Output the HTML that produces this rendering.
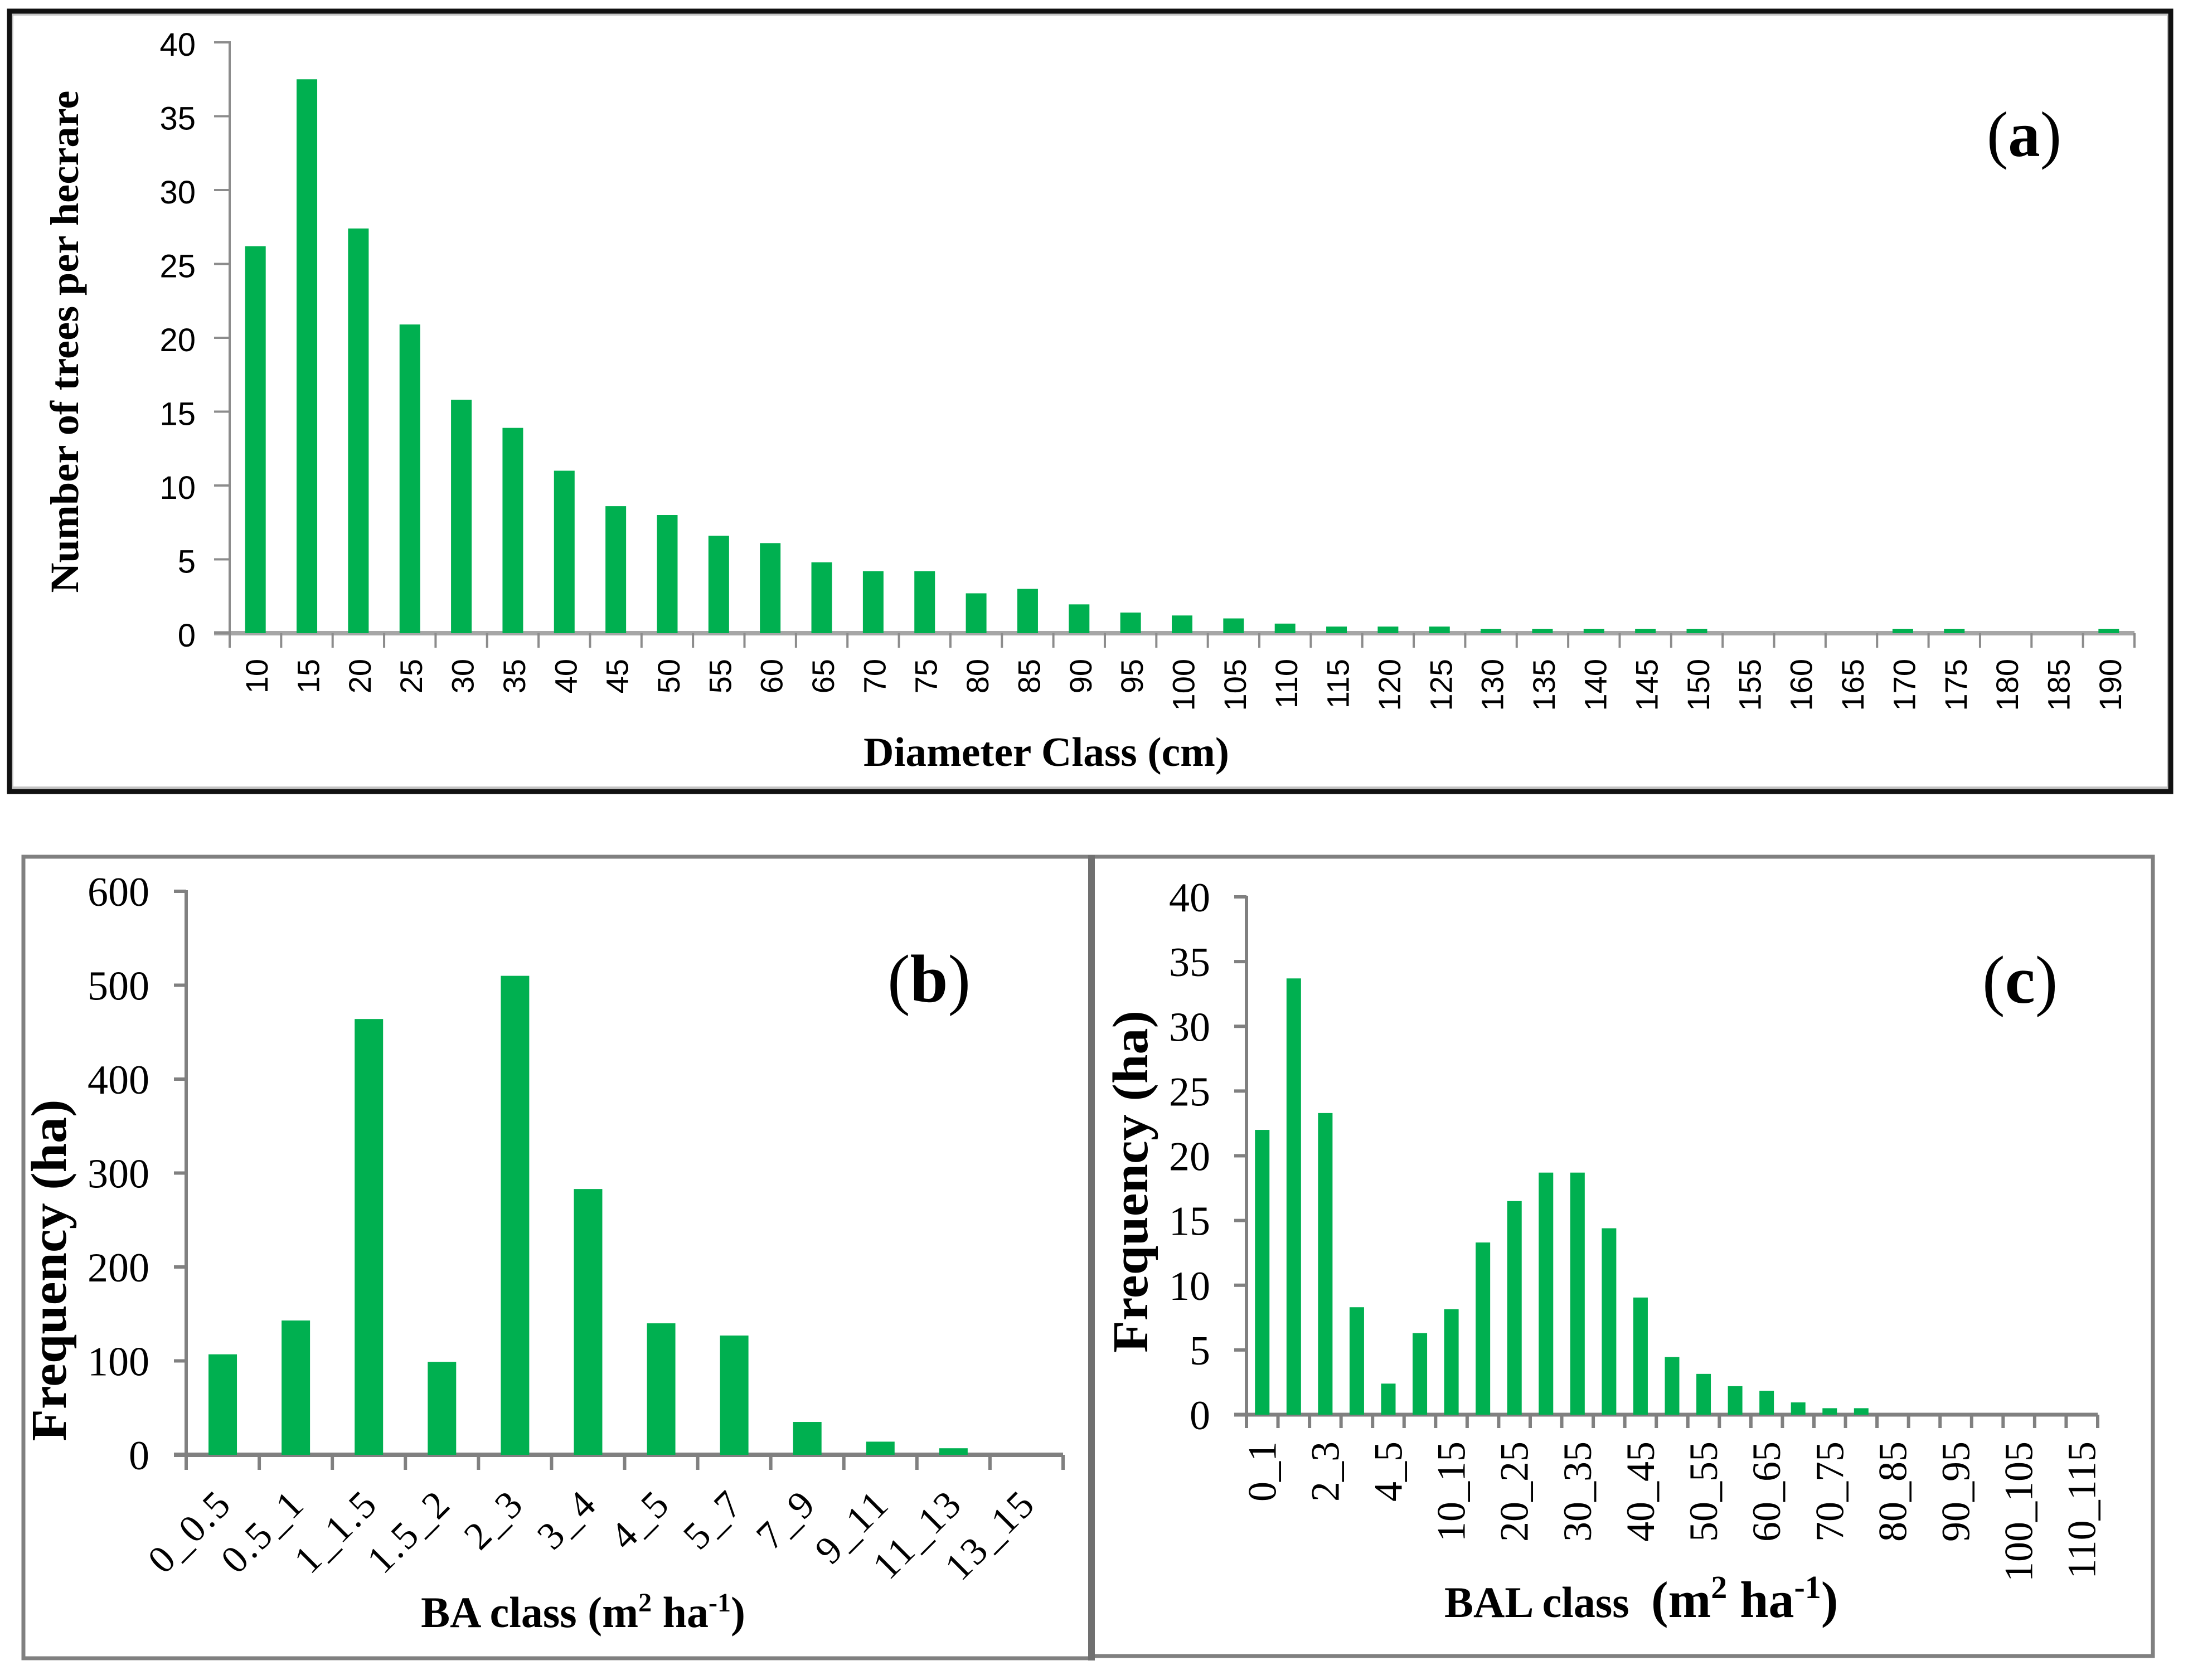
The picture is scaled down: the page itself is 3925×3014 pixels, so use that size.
<!DOCTYPE html>
<html lang="en">
<head>
<meta charset="utf-8">
<title>Diameter, BA and BAL class distributions</title>
<style>
html,body{margin:0;padding:0;background:#fff;}
svg{display:block;}
.sans{font-family:"Liberation Sans",sans-serif;}
.serif{font-family:"Liberation Serif",serif;}
</style>
</head>
<body>
<svg id="figure" xmlns="http://www.w3.org/2000/svg" width="3925" height="3014" viewBox="0 0 3925 3014">
  <rect x="0" y="0" width="3925" height="3014" fill="#ffffff"/>

  <rect x="22" y="26" width="3867" height="1387" fill="none" stroke="#c4c4c4" stroke-width="4"/>
  <rect x="17" y="20" width="3877" height="1400" fill="none" stroke="#111111" stroke-width="9"/>
  <rect x="42" y="1537" width="1915" height="1438" fill="none" stroke="#808080" stroke-width="7"/>
  <rect x="1959" y="1537" width="1903" height="1434" fill="none" stroke="#808080" stroke-width="7"/>
  <line x1="1958" y1="1534" x2="1958" y2="2979" stroke="#707070" stroke-width="12"/>

  <g id="chart-a"></g>
  <g id="chart-b"></g>
  <g id="chart-c"></g>

  <text class="serif" font-weight="bold" font-size="72" text-anchor="middle" textLength="901" lengthAdjust="spacingAndGlyphs" transform="translate(140,613) rotate(-90)">Number of trees per hecrare</text>
  <text class="serif" font-weight="bold" font-size="74" text-anchor="middle" textLength="656" lengthAdjust="spacingAndGlyphs" x="1877" y="1374">Diameter Class (cm)</text>
  <text class="serif" font-size="115" x="3564" y="280">(<tspan font-weight="bold">a</tspan>)</text>

  <text class="serif" font-weight="bold" font-size="90" text-anchor="middle" textLength="613" lengthAdjust="spacingAndGlyphs" transform="translate(118,2279) rotate(-90)">Frequency (ha)</text>
  <text class="serif" font-weight="bold" font-size="78" text-anchor="middle" x="1046" y="2919">BA class (m<tspan font-size="48" dy="-28">2</tspan><tspan dy="28"> ha</tspan><tspan font-size="48" dy="-28">-1</tspan><tspan dy="28">)</tspan></text>
  <text class="serif" font-size="122" x="1592" y="1797">(<tspan font-weight="bold">b</tspan>)</text>

  <text class="serif" font-weight="bold" font-size="90" text-anchor="middle" textLength="614" lengthAdjust="spacingAndGlyphs" transform="translate(2058,2120) rotate(-90)">Frequency (ha)</text>
  <text class="serif" font-weight="bold" font-size="78" x="2591" y="2901">BAL class</text>
  <text class="serif" font-weight="bold" font-size="92" x="2962" y="2901">(m<tspan font-size="58" dy="-34">2</tspan><tspan dy="34"> ha</tspan><tspan font-size="58" dy="-34">-1</tspan><tspan dy="34">)</tspan></text>
  <text class="serif" font-size="122" x="3556" y="1799">(<tspan font-weight="bold">c</tspan>)</text>
</svg>

<script>
// Chart (a): number of trees per hectare by diameter class
var categoriesA = ["10","15","20","25","30","35","40","45","50","55","60","65","70","75","80","85","90","95","100","105","110","115","120","125","130","135","140","145","150","155","160","165","170","175","180","185","190"];
var valuesA = [26.2,37.5,27.4,20.9,15.8,13.9,11,8.6,8,6.6,6.1,4.8,4.2,4.2,2.7,3,1.95,1.4,1.2,1,0.65,0.45,0.45,0.45,0.3,0.3,0.3,0.3,0.3,0,0,0,0.3,0.3,0,0,0.3];
var yTicksA = [0,5,10,15,20,25,30,35,40];

// Chart (b): frequency by BA class
var categoriesB = ["0_0.5","0.5_1","1_1.5","1.5_2","2_3","3_4","4_5","5_7","7_9","9_11","11_13","13_15"];
var valuesB = [107,143,464,99,510,283,140,127,35,14,7,0];
var yTicksB = [0,100,200,300,400,500,600];

// Chart (c): frequency by BAL class
var categoriesC = ["0_1","1_2","2_3","3_4","4_5","5_10","10_15","15_20","20_25","25_30","30_35","35_40","40_45","45_50","50_55","55_60","60_65","65_70","70_75","75_80","80_85","85_90","90_95","95_100","100_105","105_110","110_115"];
var valuesC = [22,33.7,23.3,8.3,2.4,6.3,8.15,13.3,16.5,18.7,18.7,14.4,9.05,4.45,3.15,2.2,1.85,0.95,0.5,0.5,0,0,0,0,0,0,0];
var yTicksC = [0,5,10,15,20,25,30,35,40];

var SVG_NS = "http://www.w3.org/2000/svg";

function make(parent, tag, attrs, content) {
  var el = document.createElementNS(SVG_NS, tag);
  for (var k in attrs) { el.setAttribute(k, attrs[k]); }
  if (content !== undefined) { el.textContent = content; }
  parent.appendChild(el);
  return el;
}

function drawChart(cfg) {
  var root = document.getElementById(cfg.id);
  var cats = cfg.categories, vals = cfg.values, ticks = cfg.yTicks;
  var yMax = ticks[ticks.length - 1];
  var step = (cfg.right - cfg.left) / cats.length;
  function xScale(i) { return cfg.left + (i + 0.5) * step; }
  function yScale(v) { return cfg.bottom - (v / yMax) * (cfg.bottom - cfg.top); }
  var el, i;

  // baseline
  el = make(root, "line", {x1: cfg.left - cfg.yTickLen, y1: cfg.bottom, x2: cfg.right, y2: cfg.bottom, stroke: cfg.baseColor, "stroke-width": cfg.baseWidth});
  
  

  // y axis
  el = make(root, "line", {x1: cfg.left, y1: cfg.top - 2, x2: cfg.left, y2: cfg.bottom + cfg.xTickLen, stroke: cfg.axisColor, "stroke-width": cfg.axisWidth});
  
  

  // y ticks and labels
  for (i = 0; i < ticks.length; i++) {
    var ty = yScale(ticks[i]);
    el = make(root, "line", {x1: cfg.left - cfg.yTickLen, y1: ty, x2: cfg.left, y2: ty, stroke: cfg.axisColor, "stroke-width": cfg.axisWidth});
    
    
    el = make(root, "text", {"class": cfg.fontClass, "font-size": cfg.yFont, "text-anchor": "end", x: cfg.yLabelX, y: ty + cfg.yLabelDy, fill: "#000"}, String(ticks[i]));
    
    
  }

  // x ticks
  for (i = 0; i <= cats.length; i++) {
    var tx = cfg.left + i * step;
    el = make(root, "line", {x1: tx, y1: cfg.bottom, x2: tx, y2: cfg.bottom + cfg.xTickLen, stroke: cfg.axisColor, "stroke-width": cfg.xTickWidth});
    
    
  }

  // bars
  for (i = 0; i < vals.length; i++) {
    if (vals[i] <= 0) { continue; }
    var by = yScale(vals[i]);
    el = make(root, "rect", {x: xScale(i) - cfg.barWidth / 2, y: by, width: cfg.barWidth, height: cfg.bottom - by, fill: "#00b050"});
    
    
  }

  // x labels
  for (i = 0; i < cats.length; i += cfg.labelEvery) {
    var lx = xScale(i) + cfg.xLabelDx;
    el = make(root, "text", {"class": cfg.fontClass, "font-size": cfg.xFont, "text-anchor": "end", fill: "#000", "letter-spacing": cfg.xSpacing,
      transform: "translate(" + lx + "," + cfg.xLabelY + ") rotate(" + cfg.xAngle + ")"}, cats[i]);
    
    
  }
}

drawChart({id: "chart-a", categories: categoriesA, values: valuesA, yTicks: yTicksA,
  left: 412, right: 3829, top: 76, bottom: 1136, barWidth: 37,
  yTickLen: 28, xTickLen: 26, axisColor: "#8c8c8c", axisWidth: 4, xTickWidth: 4, baseColor: "#a6a6a6", baseWidth: 8,
  fontClass: "sans", yFont: 58, yLabelX: 351, yLabelDy: 24, xFont: 56, xLabelDx: 22, xLabelY: 1182, xAngle: -90, xSpacing: 0, labelEvery: 1});

drawChart({id: "chart-b", categories: categoriesB, values: valuesB, yTicks: yTicksB,
  left: 334, right: 1907, top: 1599, bottom: 2610, barWidth: 51,
  yTickLen: 22, xTickLen: 27, axisColor: "#808080", axisWidth: 6, xTickWidth: 6, baseColor: "#808080", baseWidth: 8,
  fontClass: "serif", yFont: 74, yLabelX: 268, yLabelDy: 26, xFont: 70, xLabelDx: 20, xLabelY: 2701, xAngle: -45, xSpacing: 4, labelEvery: 1});

drawChart({id: "chart-c", categories: categoriesC, values: valuesC, yTicks: yTicksC,
  left: 2236, right: 3763, top: 1609, bottom: 2538, barWidth: 26,
  yTickLen: 22, xTickLen: 24, axisColor: "#808080", axisWidth: 6, xTickWidth: 6, baseColor: "#808080", baseWidth: 7,
  fontClass: "serif", yFont: 74, yLabelX: 2171, yLabelDy: 26, xFont: 72, xLabelDx: 24, xLabelY: 2586, xAngle: -90, xSpacing: 0, labelEvery: 2});
</script>
</body>
</html>
